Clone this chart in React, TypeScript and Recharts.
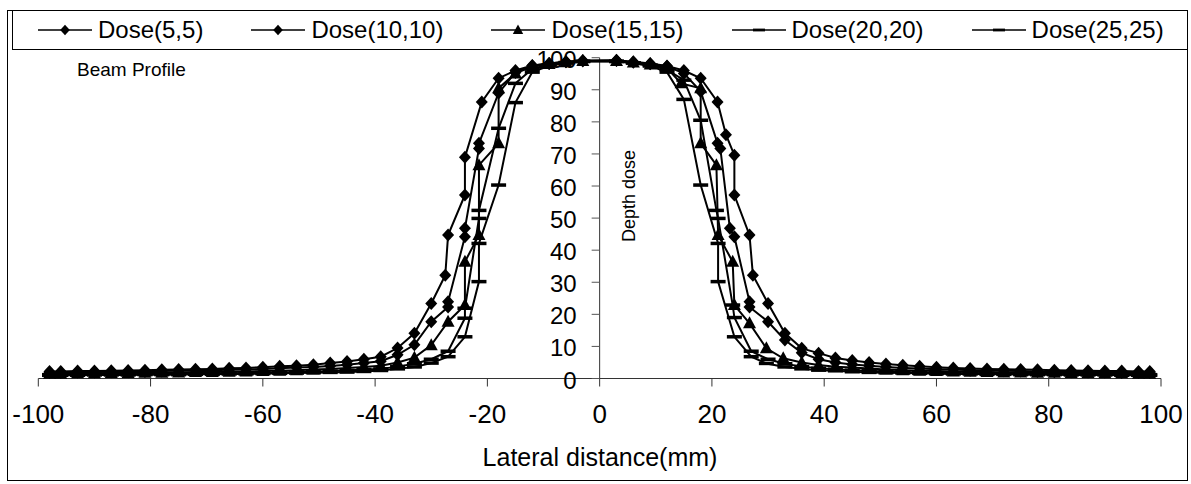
import { LineChart, Line, XAxis, YAxis, ReferenceLine } from 'recharts';

const FONT = '"Liberation Sans", Arial, sans-serif';

// shared sampling of the low-dose tails (mm)
const TAIL_LEFT_X = [-98, -96, -93, -90, -87, -84, -81, -78, -75, -72, -69, -66, -63, -60, -57, -54, -51, -48, -45, -42];
const TAIL_RIGHT_X = [45, 48, 51, 54, 57, 60, 63, 66, 69, 72, 75, 78, 81, 84, 87, 90, 93, 96, 98];

const X_TICKS = [-100, -80, -60, -40, -20, 0, 20, 40, 60, 80, 100];
const Y_TICKS = [0, 10, 20, 30, 40, 50, 60, 70, 80, 90, 100];

// Dose(5,5)
const S1_CORE_X = [-39, -36, -33, -30, -27.5, -27, -24, -24, -21, -18, -15, -12, -9, -6, -3, 3, 6, 9, 12, 15, 18, 21, 22.5, 24, 24, 26.7, 27.3, 30, 33, 36, 39, 42];
const S1_Y = [
  2.2, 2.2, 2.3, 2.3, 2.4, 2.5, 2.6, 2.7, 2.8, 2.9, 3.0, 3.2, 3.3, 3.5, 3.8, 4.0, 4.3, 4.8, 5.3, 6.0,
  6.8, 9.5, 14.1, 23.4, 32.2, 44.7, 57.2, 69.0, 86.2, 93.6, 96.0, 97.6, 98.2, 98.7, 99.1,
  99.2, 98.7, 98.2, 97.4, 96.0, 93.6, 86.2, 76.0, 69.6, 57.2, 44.7, 32.2, 23.4, 14.1, 9.4, 7.9, 6.4,
  5.6, 5.0, 4.5, 4.1, 3.8, 3.5, 3.3, 3.1, 3.0, 2.9, 2.8, 2.7, 2.6, 2.5, 2.4, 2.3, 2.3, 2.2, 2.2,
];

// Dose(10,10)
const S2_CORE_X = [-39, -36, -33, -30, -27, -27, -24, -24, -21.5, -21.5, -18, -15, -12, -9, -6, -3, 3, 6, 9, 12, 15, 18, 21, 21.5, 23.2, 24, 26.7, 26.7, 30, 33, 36, 39, 42];
const S2_Y = [
  1.9, 1.9, 2.0, 2.0, 2.1, 2.1, 2.2, 2.3, 2.4, 2.5, 2.6, 2.7, 2.8, 3.0, 3.2, 3.4, 3.6, 3.9, 4.3, 4.8,
  5.4, 7.4, 10.5, 17.7, 22.3, 23.9, 44.2, 46.8, 71.7, 73.3, 89.0, 95.4, 97.5, 98.2, 98.7, 99.0,
  99.1, 98.6, 98.1, 97.3, 95.1, 89.5, 73.3, 71.7, 46.8, 44.2, 23.9, 22.3, 17.7, 12.0, 8.0, 6.0, 5.0,
  4.4, 4.0, 3.6, 3.3, 3.1, 2.9, 2.8, 2.6, 2.5, 2.4, 2.3, 2.2, 2.1, 2.1, 2.0, 2.0, 1.9, 1.9, 1.9,
];

// Dose(15,15)
const S3_CORE_X = [-39, -36, -33, -30, -27, -24, -24, -21.5, -21.5, -18, -18, -15, -12, -9, -6, -3, 3, 6, 9, 12, 14.5, 18, 18, 20.8, 21.1, 23.7, 24, 26.7, 29.7, 32.7, 36, 39, 42];
const S3_Y = [
  1.5, 1.5, 1.6, 1.6, 1.7, 1.7, 1.8, 1.8, 1.9, 2.0, 2.0, 2.1, 2.2, 2.3, 2.4, 2.6, 2.8, 3.0, 3.3, 3.6,
  4.0, 5.0, 6.5, 10.4, 17.7, 22.9, 36.4, 44.7, 66.5, 73.3, 90.5, 95.1, 97.2, 98.0, 98.6, 99.0,
  99.0, 98.5, 97.9, 96.8, 92.0, 90.5, 73.3, 66.5, 44.7, 36.4, 22.9, 17.2, 9.4, 6.3, 5.0, 4.2, 3.7,
  3.4, 3.1, 2.8, 2.6, 2.4, 2.3, 2.2, 2.1, 2.0, 1.9, 1.9, 1.8, 1.8, 1.7, 1.7, 1.6, 1.6, 1.5, 1.5,
];

// Dose(20,20)
const S4_CORE_X = [-39, -36, -33, -30, -27, -24, -24, -21.5, -21.5, -18, -15, -12, -9, -6, -3, 3, 6, 9, 12, 15, 18, 20.8, 21.1, 23.7, 24, 27, 30, 33, 36, 39, 42];
const S4_Y = [
  1.2, 1.2, 1.2, 1.3, 1.3, 1.3, 1.4, 1.4, 1.5, 1.5, 1.6, 1.6, 1.7, 1.8, 1.9, 2.0, 2.1, 2.3, 2.5, 2.8,
  3.0, 3.7, 4.6, 6.0, 8.5, 18.8, 21.9, 49.9, 52.4, 78.0, 92.0, 96.5, 97.8, 98.5, 98.9,
  98.9, 98.4, 97.7, 96.3, 93.0, 80.5, 52.4, 49.9, 22.9, 19.0, 8.5, 6.0, 4.6, 3.7, 3.2, 2.9,
  2.6, 2.4, 2.2, 2.0, 1.9, 1.8, 1.7, 1.6, 1.6, 1.5, 1.5, 1.4, 1.4, 1.3, 1.3, 1.3, 1.2, 1.2, 1.2,
];

// Dose(25,25)
const S5_CORE_X = [-39, -36, -33, -30, -27, -24, -21.5, -21.5, -18, -15, -12, -9, -6, -3, 3, 6, 9, 12, 15, 18, 21.1, 21.1, 24, 27, 29.7, 33, 36, 39, 42];
const S5_Y = [
  1.0, 1.0, 1.0, 1.1, 1.1, 1.1, 1.2, 1.2, 1.2, 1.3, 1.3, 1.4, 1.4, 1.5, 1.6, 1.7, 1.8, 1.9, 2.0, 2.2,
  2.5, 3.0, 3.6, 4.8, 6.8, 13.0, 30.2, 42.1, 60.3, 86.0, 95.5, 97.5, 98.3, 98.8,
  98.8, 98.3, 97.4, 95.5, 87.0, 60.3, 42.1, 30.2, 13.0, 6.8, 4.7, 3.6, 3.0, 2.6, 2.4,
  2.1, 1.9, 1.8, 1.7, 1.6, 1.5, 1.4, 1.4, 1.3, 1.3, 1.2, 1.2, 1.2, 1.1, 1.1, 1.1, 1.0, 1.0, 1.0,
];

const build = (core: number[], ys: number[]) =>
  [...TAIL_LEFT_X, ...core, ...TAIL_RIGHT_X].map((x, i) => ({ x, y: ys[i] }));

const SERIES = [
  { name: 'Dose(5,5)', shape: 'diamond', data: build(S1_CORE_X, S1_Y) },
  { name: 'Dose(10,10)', shape: 'diamond', data: build(S2_CORE_X, S2_Y) },
  { name: 'Dose(15,15)', shape: 'triangle', data: build(S3_CORE_X, S3_Y) },
  { name: 'Dose(20,20)', shape: 'dash', data: build(S4_CORE_X, S4_Y) },
  { name: 'Dose(25,25)', shape: 'dash', data: build(S5_CORE_X, S5_Y) },
];

const W = 1191;
const H = 484;
const Y_AXIS_W = 1;
const MARGIN = { top: 57.7, right: 30, left: 38.3 - Y_AXIS_W, bottom: 65.5 };
const PLOT_LEFT = MARGIN.left + Y_AXIS_W;
const PLOT_W = W - PLOT_LEFT - MARGIN.right;
// x position of the value axis (it crosses at x = 0)
const ZERO_X = PLOT_LEFT + PLOT_W / 2;

function Mark({ cx, cy, shape, s = 1 }: { cx?: number; cy?: number; shape: string; s?: number }) {
  if (cx == null || cy == null) return null;
  if (shape === 'diamond')
    return <path d={`M${cx},${cy - 6.5 * s}L${cx + 6 * s},${cy}L${cx},${cy + 6.5 * s}L${cx - 6 * s},${cy}Z`} fill="#000" />;
  if (shape === 'triangle')
    return <path d={`M${cx},${cy - 7 * s}L${cx + 6.5 * s},${cy + 5 * s}L${cx - 6.5 * s},${cy + 5 * s}Z`} fill="#000" />;
  return <rect x={cx - 7.5 * s} y={cy - 1.75 * s} width={15 * s} height={3.5 * s} fill="#000" />;
}

// y ticks drawn next to the centred axis line
function YTick(props: any) {
  const { y, payload } = props;
  return (
    <g>
      <line x1={ZERO_X - 8} x2={ZERO_X} y1={y} y2={y} stroke="#555" />
      <text x={ZERO_X - 23} y={y} dy={10} textAnchor="end" fontSize={24} fontFamily={FONT} fill="#000">
        {payload.value}
      </text>
    </g>
  );
}

function LegendBox() {
  return (
    <div
      style={{
        position: 'absolute', left: 12, top: 10, width: 1176, height: 40, boxSizing: 'border-box',
        border: '1px solid #000', display: 'flex', alignItems: 'center', paddingLeft: 25, gap: 48,
        fontFamily: FONT, fontSize: 24, color: '#000', background: '#fff',
      }}
    >
      {SERIES.map((s) => (
        <div key={s.name} style={{ display: 'flex', alignItems: 'center' }}>
          <svg width={54} height={20}>
            <line x1={0} x2={54} y1={10} y2={10} stroke="#000" strokeWidth={1.5} />
            <Mark cx={27} cy={10} shape={s.shape} s={0.8} />
          </svg>
          <span style={{ marginLeft: 6, lineHeight: '24px' }}>{s.name}</span>
        </div>
      ))}
    </div>
  );
}

export default function App() {
  return (
    <div style={{ position: 'absolute', left: 0, top: 0, width: W, height: H, background: '#fff' }}>
      <div style={{ position: 'absolute', left: 7, top: 10, width: 1181, height: 471, boxSizing: 'border-box', border: '1px solid #000' }} />
      <LineChart width={W} height={H} margin={MARGIN}>
        <XAxis
          type="number"
          dataKey="x"
          domain={[-100, 100]}
          ticks={X_TICKS}
          interval={0}
          allowDataOverflow
          height={40}
          tickSize={8}
          tickMargin={18}
          axisLine={{ stroke: '#333' }}
          tickLine={{ stroke: '#333' }}
          tick={{ fontSize: 26, fill: '#000', fontFamily: FONT }}
        />
        <YAxis
          type="number"
          domain={[0, 100]}
          ticks={Y_TICKS}
          interval={0}
          width={Y_AXIS_W}
          axisLine={false}
          tickLine={false}
          tick={(p: any) => <YTick key={`yt-${p.index}`} {...p} />}
        />
        <ReferenceLine x={0} stroke="#333" />
        {SERIES.map((s) => (
          <Line
            key={s.name}
            data={s.data}
            dataKey="y"
            name={s.name}
            type="linear"
            stroke="#000"
            strokeWidth={2}
            isAnimationActive={false}
            activeDot={false}
            dot={(p: any) => <Mark key={`${s.name}-${p.index}`} cx={p.cx} cy={p.cy} shape={s.shape} />}
          />
        ))}
      </LineChart>
      <LegendBox />
      <svg width={W} height={H} style={{ position: 'absolute', left: 0, top: 0, pointerEvents: 'none' }}>
        <text x={77} y={76} fontSize={19} fontFamily={FONT} fill="#000">Beam Profile</text>
        <text x={629} y={196} fontSize={18} fontFamily={FONT} fill="#000" textAnchor="middle" dominantBaseline="central" transform="rotate(-90 629 196)">
          Depth dose
        </text>
        <text x={600} y={466} fontSize={25} fontFamily={FONT} fill="#000" textAnchor="middle">Lateral distance(mm)</text>
      </svg>
    </div>
  );
}
